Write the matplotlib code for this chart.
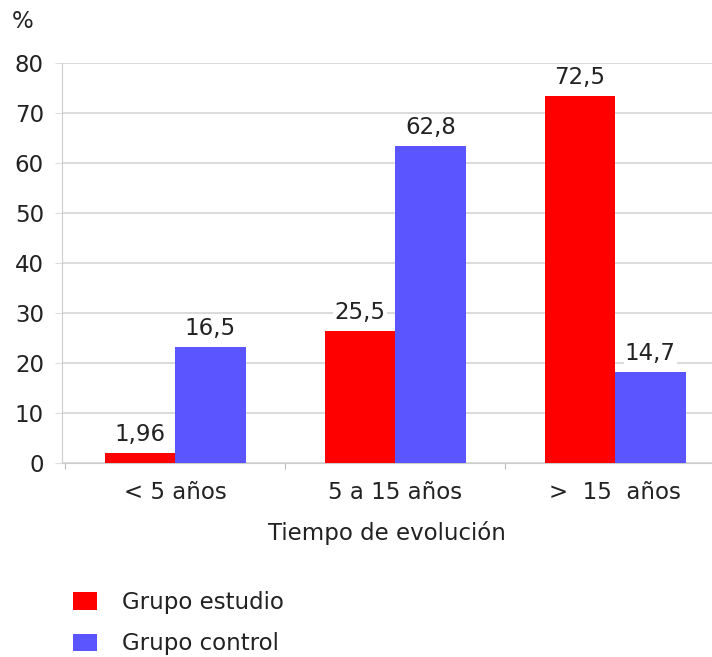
import numpy as np
import matplotlib
matplotlib.use("Agg")
import matplotlib.pyplot as plt

# datos
categorias = ["< 5 años", "5 a 15 años", ">  15  años"]
series = ["Grupo estudio", "Grupo control"]
# altura de las barras tal como se dibujan
estudio = [2.0, 26.4, 73.4]
control = [23.2, 63.4, 18.2]
# etiquetas que se muestran encima
etiq_estudio = ["1,96", "25,5", "72,5"]
etiq_control = ["16,5", "62,8", "14,7"]
colores = ["#ff0000", "#5b55ff"]

FS = 16.5
plt.rcParams["font.family"] = ["DejaVu Sans"]
fig = plt.figure(figsize=(7.12, 6.57), dpi=100)
ax = fig.add_axes([62 / 712, 1 - 463 / 657, 650 / 712, 400 / 657])

x = np.arange(len(categorias))
w = 0.32
b1 = ax.bar(x - w / 2, estudio, w, color=colores[0], label=series[0], zorder=3)
b2 = ax.bar(x + w / 2, control, w, color=colores[1], label=series[1], zorder=3)

for bars, labs in ((b1, etiq_estudio), (b2, etiq_control)):
    for r, t in zip(bars, labs):
        ax.annotate(t, (r.get_x() + r.get_width() / 2, r.get_height()),
                    xytext=(0, 5), textcoords="offset points",
                    ha="center", va="bottom", fontsize=FS, color="#222222",
                    zorder=4, bbox=dict(fc="white", ec="none", pad=1))

ax.set_ylim(0, 80)
ax.set_xlim(-0.514, 2.44)
ax.set_yticks(range(0, 81, 10))
ax.set_xticks([-0.5, 0.5, 1.5])
ax.set_xticklabels([])
ax.set_xticks(x, minor=True)
ax.set_xticklabels(categorias, minor=True)
ax.tick_params(axis="x", which="minor", length=0, pad=13, labelsize=FS, labelcolor="#222222")
ax.tick_params(axis="x", which="major", length=4, color="#bbbbbb")
ax.tick_params(axis="y", length=5, color="#dddddd", labelsize=FS, pad=8, labelcolor="#222222")
ax.grid(axis="y", color="#d4d4d4", lw=1.2, zorder=0)
for s in ("top", "right"):
    ax.spines[s].set_visible(False)
ax.spines["left"].set_color("#cccccc")
ax.spines["bottom"].set_color("#cccccc")
ax.set_xlabel("Tiempo de evolución", fontsize=FS, labelpad=12, color="#222222")

fig.text(12 / 712, 1 - 21 / 657, "%", fontsize=FS, va="center", ha="left", color="#222222")

fig.legend(loc="upper left", bbox_to_anchor=(73 / 712, 1 - 591 / 657),
           frameon=False, fontsize=FS, handlelength=1.05, handleheight=0.8,
           handletextpad=1.1, labelspacing=0.8, borderpad=0, borderaxespad=0,
           labelcolor="#222222")

fig.savefig("out.png", dpi=100)
